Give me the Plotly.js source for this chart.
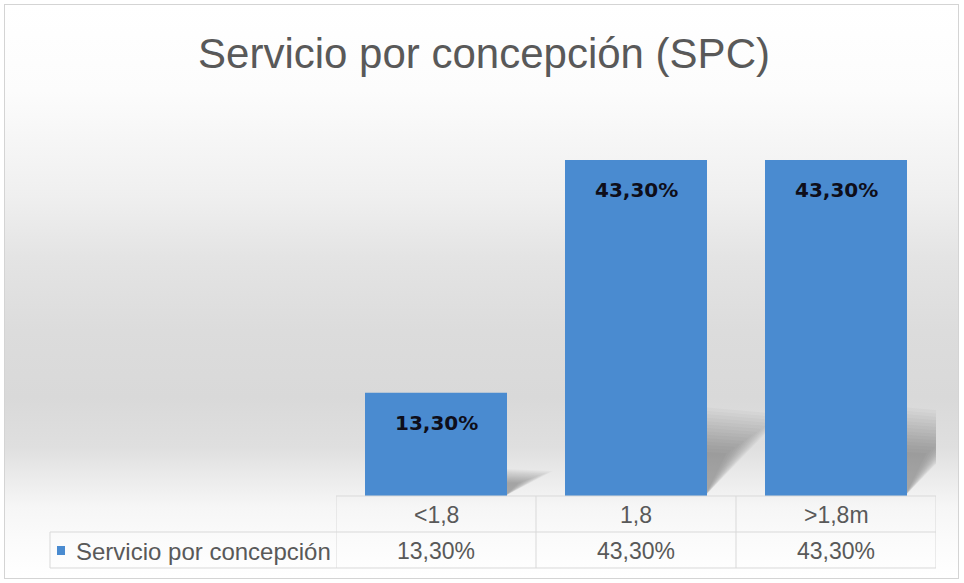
<!DOCTYPE html>
<html><head><meta charset="utf-8">
<script src="https://cdn.plot.ly/plotly-3.0.1.min.js"></script>
<style>
html,body{margin:0;padding:0;background:#fff;}
#frame{position:absolute;left:4px;top:4px;width:953px;height:573px;border:1px solid #d4d4d4;
background:linear-gradient(to bottom,#ffffff 0px,#fcfcfc 86px,#efefef 192px,#e4e4e4 252px,#dcdcdc 326px,#d9d9d9 392px,#dfdfdf 442px,#ebebeb 472px,#f6f6f6 502px,#fbfbfb 536px,#ffffff 573px);}
#chart{position:absolute;left:0;top:0;width:964px;height:583px;}
</style></head>
<body>
<div id="frame"></div>
<div id="chart"></div>
<script>
const chartTitle = 'Servicio por concepción (SPC)';
const seriesName = 'Servicio por concepción';
const categories = ['<1,8', '1,8', '>1,8m'];
const values = [13.3, 43.3, 43.3];

const barColor = '#4a8bd0';
const gridColor = '#d9d9d9';
const textColor = '#595959';
const fmt = v => v.toFixed(2).replace('.', ',') + '%';
const esc = s => s.replace(/</g, '&lt;').replace(/>/g, '&gt;');

const L = 336, T = 108, W = 600, H = 388;
const px2x = px => (px - L) / W;
const py2y = py => (T + H - py) / H;

const idx = categories.map((c, i) => i);
const halfBar = 0.355;

const shapes = [];
// soft shadows behind the bars
values.forEach((v, i) => {
  const R = i + halfBar;
  const hBase = v * 0.22;
  const dBase = 0.12 + v * 0.0038;
  const n = 14;
  for (let k = 0; k < n; k++) {
    const t = k / (n - 1);
    const h = hBase * (0.6 + 0.6 * t);
    const d = dBase * (0.35 + 1.0 * t);
    shapes.push({type: 'path', xref: 'x', yref: 'y', layer: 'below',
      path: `M ${R - 0.01} 0 L ${R - 0.01} ${h} L ${R + d} ${h * (0.97 - 0.05 * t)} Z`,
      fillcolor: 'rgba(0,0,0,0.024)', line: {width: 0}});
  }
});
// table grid
const line = (x0, y0, x1, y1, xref) => ({type: 'line', xref: xref || 'paper', yref: 'paper',
  x0, y0, x1, y1, line: {color: gridColor, width: 1}});
shapes.push(line(0, py2y(496), 1, py2y(496)));
shapes.push(line(px2x(50), py2y(532), 1, py2y(532)));
shapes.push(line(px2x(50), py2y(568), 1, py2y(568)));
shapes.push(line(px2x(50), py2y(532), px2x(50), py2y(568)));
for (let i = 0; i <= categories.length; i++) {
  shapes.push(line(i - 0.5, py2y(496), i - 0.5, py2y(568), 'x'));
}
// legend key
shapes.push({type: 'rect', xref: 'paper', yref: 'paper',
  x0: px2x(57), x1: px2x(65), y0: py2y(555), y1: py2y(546),
  fillcolor: barColor, line: {width: 0}});

const annotations = [];
const tableFont = {family: 'Liberation Sans, Arial, sans-serif', size: 23, color: textColor};
categories.forEach((c, i) => {
  annotations.push({x: i, xref: 'x', y: py2y(515), yref: 'paper', text: esc(c),
    showarrow: false, xanchor: 'center', yanchor: 'middle', font: tableFont});
  annotations.push({x: i, xref: 'x', y: py2y(551), yref: 'paper', text: fmt(values[i]),
    showarrow: false, xanchor: 'center', yanchor: 'middle', font: tableFont});
  annotations.push({x: i, xref: 'x', y: values[i], yref: 'y', text: fmt(values[i]),
    showarrow: false, xanchor: 'center', yanchor: 'top', yshift: -16,
    font: {family: 'DejaVu Sans, sans-serif', size: 20, color: '#0e0e1a', weight: 'bold'}});
});
annotations.push({x: px2x(74), xref: 'paper', y: py2y(551), yref: 'paper', text: seriesName,
  showarrow: false, xanchor: 'left', yanchor: 'middle',
  font: {family: 'Liberation Sans, Arial, sans-serif', size: 24, color: textColor}});

const data = [{
  type: 'bar', x: idx, y: values, name: seriesName,
  marker: {color: barColor, line: {width: 0}},
  hoverinfo: 'none', textposition: 'none'
}];

const layout = {
  width: 964, height: 583,
  margin: {l: L, r: 964 - L - W, t: T, b: 583 - T - H},
  paper_bgcolor: 'rgba(0,0,0,0)', plot_bgcolor: 'rgba(0,0,0,0)',
  title: {text: chartTitle, xref: 'container', yref: 'container', x: 484 / 964, y: 1 - 53 / 583,
    xanchor: 'center', yanchor: 'middle',
    font: {family: 'Liberation Sans, Arial, sans-serif', size: 42, color: textColor}},
  showlegend: false,
  bargap: 0.29,
  xaxis: {range: [-0.5, categories.length - 0.5], visible: false, fixedrange: true},
  yaxis: {range: [0, 50], visible: false, fixedrange: true},
  shapes, annotations
};

Plotly.newPlot('chart', data, layout, {staticPlot: true, displayModeBar: false});
</script>
</body></html>
